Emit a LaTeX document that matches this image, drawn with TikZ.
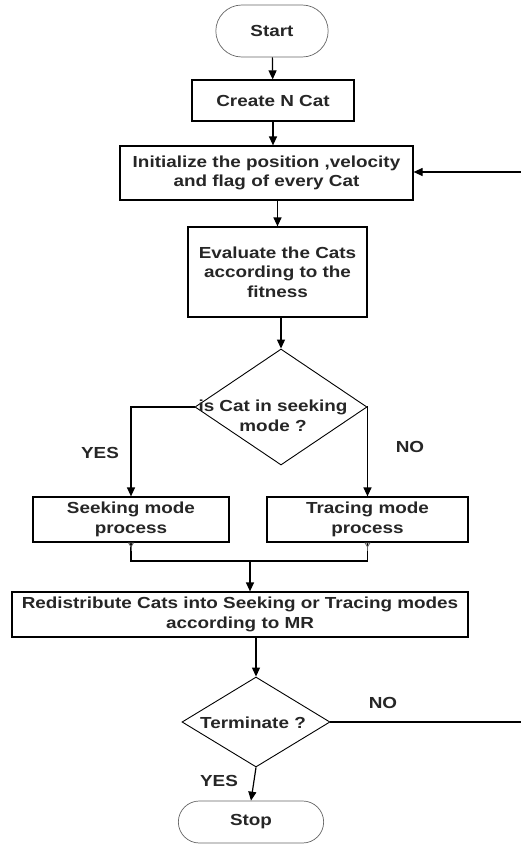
\documentclass[tikz,border=0pt]{standalone}
\usepackage{fontspec}
\setmainfont{Liberation Sans}[FakeStretch=1.18]
\usetikzlibrary{shapes.geometric,shapes.misc,arrows.meta}
\tikzset{
  every node/.style={font=\fontsize{16}{19.5}\selectfont\bfseries, text=black!85},
  box/.style={draw, line width=1.2pt, align=center, inner sep=2pt},
  term/.style={draw=black!60, line width=0.7pt, rounded rectangle, align=center},
  dia/.style={draw, line width=0.9pt, diamond, inner sep=0pt},
  conn/.style={line width=1.2pt, -{Triangle[length=9pt,width=8pt]}},
  line/.style={line width=1.2pt},
  ghost/.style={line width=0.8pt, draw=black!60, {Triangle[open,reversed,length=5pt,width=6pt]}-}
}
\begin{document}
\begin{tikzpicture}[x=1pt,y=-1pt]
\useasboundingbox (0,0) rectangle (521,844);
\fill[white] (0,0) rectangle (521,844);

\node[term, minimum width=119pt, minimum height=52pt] (start) at (272,31) {Start};
\node[box, minimum width=162pt, minimum height=41pt] (create) at (273,100.5) {Create N Cat};
\node[box, minimum width=293pt, minimum height=54pt] (init) at (266.5,173) {Initialize the position ,velocity\\and flag of every Cat};
\node[box, minimum width=179pt, minimum height=90pt] (eval) at (277.5,272) {Evaluate the Cats\\according to the\\fitness};
\node[dia, minimum width=172pt, minimum height=116pt] (d1) at (281,407) {};
\node (d1t) at (273,416) [align=center] {is Cat in seeking\\mode ?};
\node[box, minimum width=196pt, minimum height=45pt] (seek) at (131,519.5) {Seeking mode\\process};
\node[box, minimum width=201pt, minimum height=45pt] (trace) at (367.5,519.5) {Tracing mode\\process};
\coordinate (merge) at (250,561);
\node[box, minimum width=456pt, minimum height=45pt] (redist) at (240,614.5) {Redistribute Cats into Seeking or Tracing modes\\according to MR};
\node[dia, minimum width=148pt, minimum height=90pt] (d2) at (256,722) {};
\node (d2t) at (253,723) {Terminate ?};
\node[term, minimum width=152pt, minimum height=42pt] (stop) at (251,822) {Stop};
\coordinate (r1) at (521,722);
\coordinate (r2) at (521,172);

\node (yes1) at (100,453) {YES};
\node (no1) at (410,447) {NO};
\node (no2) at (383,703) {NO};
\node (yes2) at (219,781) {YES};

\draw[conn] (start) -- (create);
\draw[conn] (create.south) -- (create.south |- init.north);
\draw[conn] (eval.north |- init.south) -- (eval.north);
\draw[conn] (eval.south -| d1.north) -- (d1.north);
\draw[conn] (d1.west) -| (seek.north);
\draw[conn] (d1.east) -| (trace.north);
\draw[line] (seek.south) |- (merge) -| (trace.south);
\draw[ghost] (seek.south) -- ++(0,8);
\draw[ghost] (trace.south) -- ++(0,8);
\draw[conn] (merge) -- (merge |- redist.north);
\draw[conn] (redist.south -| d2.north) -- (d2.north);
\draw[conn] (d2.south) -- (stop.north);
\draw[line] (d2.east) -- (r1);
\draw[conn] (r2) -- (r2 -| init.east);
\end{tikzpicture}
\end{document}
